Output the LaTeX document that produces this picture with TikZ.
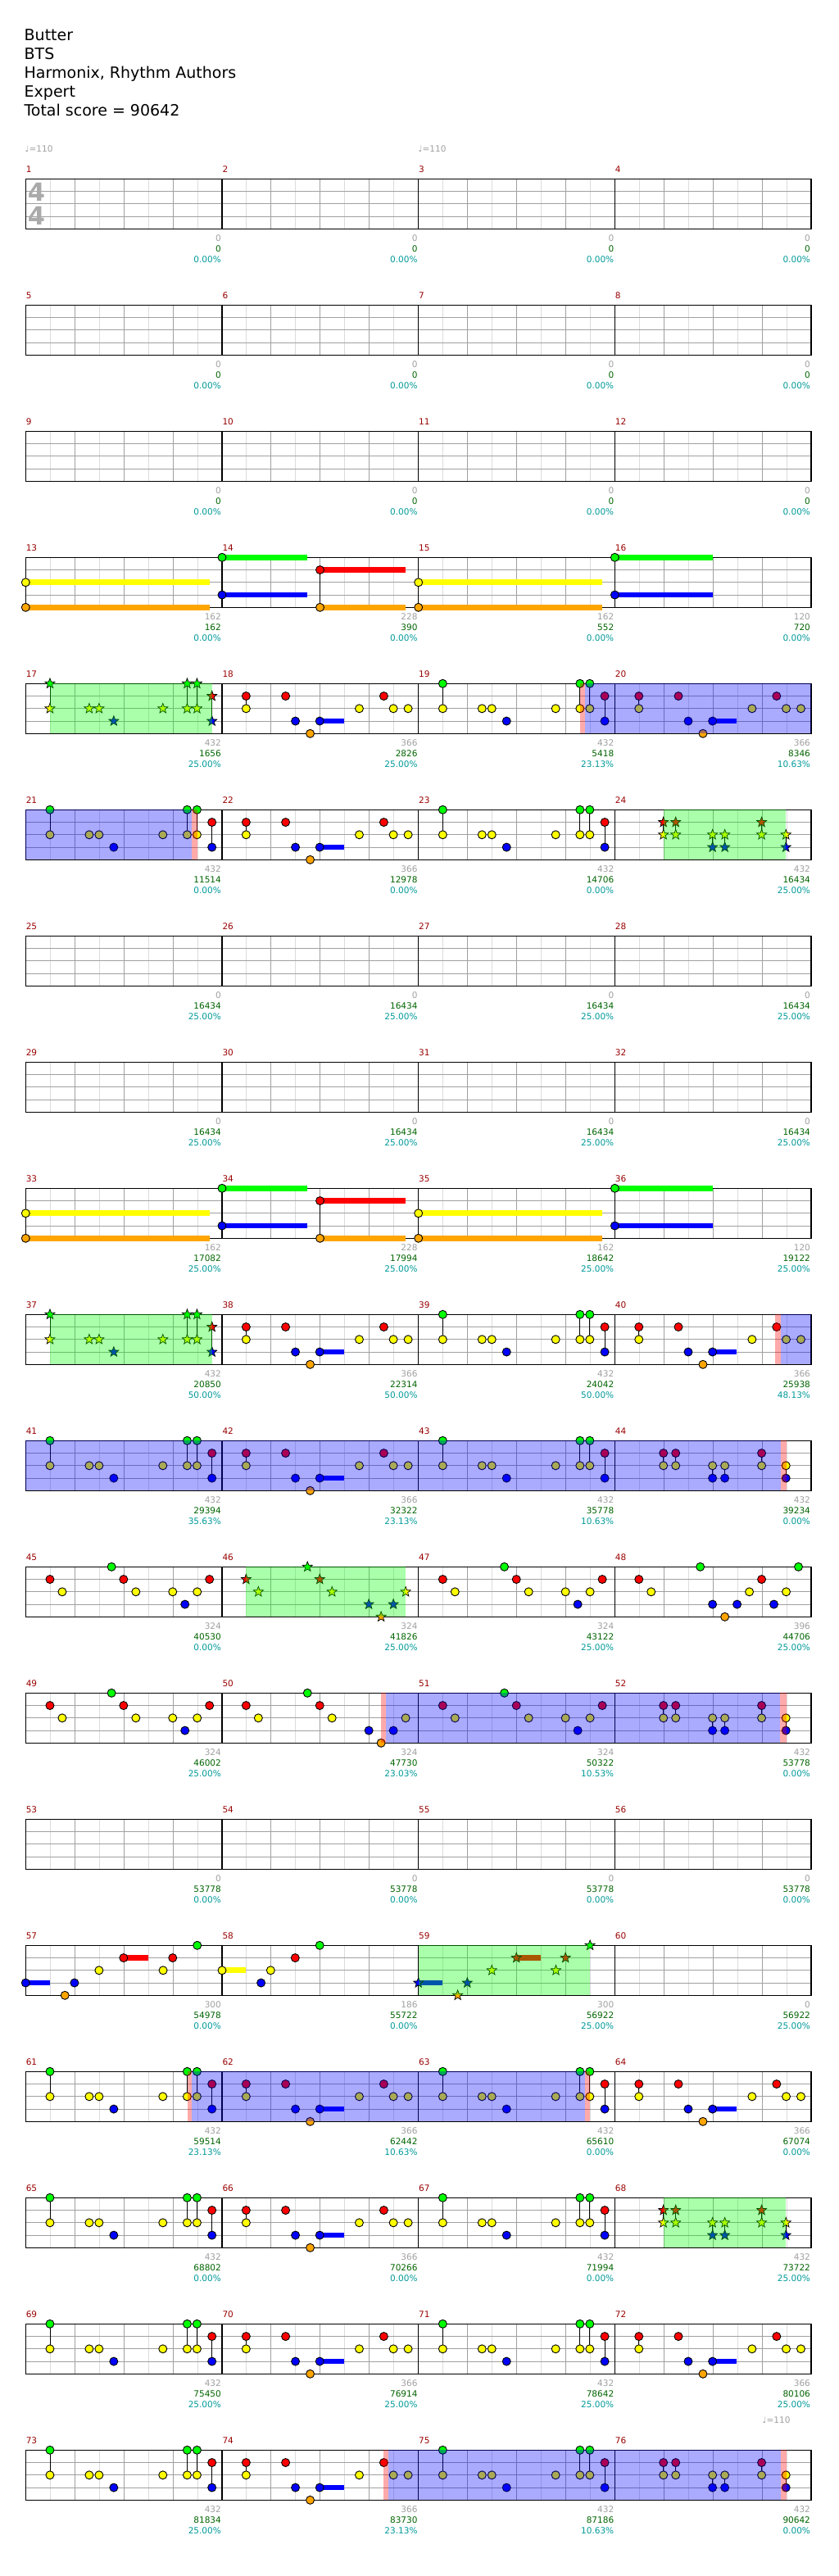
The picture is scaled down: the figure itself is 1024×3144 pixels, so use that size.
\documentclass[tikz,border=0pt]{standalone}
\usepackage{fontspec}
\setmainfont{DejaVu Sans}
\definecolor{cG}{RGB}{0,255,0}
\definecolor{cR}{RGB}{255,0,0}
\definecolor{cY}{RGB}{255,255,0}
\definecolor{cB}{RGB}{0,0,255}
\definecolor{cO}{RGB}{255,165,0}
\definecolor{mnum}{RGB}{153,0,0}
\definecolor{sgray}{RGB}{160,160,160}
\definecolor{sgreen}{RGB}{0,100,0}
\definecolor{scyan}{RGB}{0,153,153}
\definecolor{gridd}{RGB}{160,160,160}
\definecolor{gridl}{RGB}{220,220,220}
\definecolor{tsig}{RGB}{170,170,170}
\def\laneG{0}\def\laneR{1}\def\laneY{2}\def\laneB{3}\def\laneO{4}
\newcommand\setm[1]{%
  \pgfmathtruncatemacro\mrow{(#1-1)/4}%
  \pgfmathtruncatemacro\mcol{#1-1-4*\mrow}%
  \pgfmathsetmacro\mx{31.3+239.7*\mcol}%
  \pgfmathsetmacro\my{218.3+154*\mrow}}
\newcommand\nte[2]{%
  \pgfmathsetmacro\nx{\mx+29.96*#1}%
  \pgfmathsetmacro\ny{\my+15.25*\csname lane#2\endcsname}%
  \filldraw[fill=c#2,draw=black,line width=0.9pt] (\nx,\ny) circle[radius=5pt];}
\newcommand\sta[2]{%
  \pgfmathsetmacro\nx{\mx+29.96*#1}%
  \pgfmathsetmacro\ny{\my+15.25*\csname lane#2\endcsname}%
  \filldraw[fill=c#2,draw=black,line width=0.7pt,shift={(\nx,\ny)}]
    (90:6.4pt) -- (126:2.7pt) -- (162:6.4pt) -- (198:2.7pt) -- (234:6.4pt) -- (270:2.7pt)
    -- (306:6.4pt) -- (342:2.7pt) -- (18:6.4pt) -- (54:2.7pt) -- cycle;}
\newcommand\sus[3]{%
  \pgfmathsetmacro\xa{\mx+29.96*#1}%
  \pgfmathsetmacro\xb{\mx+29.96*#2}%
  \pgfmathsetmacro\ny{\my+15.25*\csname lane#3\endcsname}%
  \fill[c#3] (\xa,\ny-3.4) rectangle (\xb,\ny+3.4);}
\newcommand\chd[3]{%
  \pgfmathsetmacro\nx{\mx+29.96*#1}%
  \pgfmathsetmacro\ya{\my+15.25*\csname lane#2\endcsname}%
  \pgfmathsetmacro\yb{\my+15.25*\csname lane#3\endcsname}%
  \draw[black,line width=0.9pt] (\nx,\ya) -- (\nx,\yb);}
\newcommand\ovl[5]{%
  \setm{#2}\pgfmathsetmacro\xa{\mx+29.96*#3}%
  \setm{#4}\pgfmathsetmacro\xb{\mx+29.96*#5}%
  \fill[#1,fill opacity=0.333] (\xa,\my) rectangle (\xb,\my+61);}
\newcommand\scr[4]{%
  \setm{#1}\pgfmathsetmacro\xe{\mx+239.7-1}%
  \node[scl,text=sgray] (sa#1) at (\xe,\my+76.5) {#2};
  \node[scl,text=sgreen] (sb#1) at (\xe,\my+89.5) {#3};
  \node[scl,text=scyan] (sc#1) at (\xe,\my+102.5) {#4};}
% patterns
\newcommand\patA[1]{%
  \sus{3.98}{4.97}{B}\chd{0.98}{R}{Y}%
  #1{0.98}{R}#1{2.59}{R}#1{6.59}{R}%
  #1{0.98}{Y}#1{5.59}{Y}#1{6.98}{Y}#1{7.58}{Y}%
  #1{2.99}{B}#1{3.98}{B}#1{3.59}{O}}
\newcommand\patC[1]{%
  \chd{0.99}{G}{Y}\chd{6.58}{G}{Y}\chd{6.98}{G}{Y}\chd{7.59}{R}{B}%
  #1{0.99}{G}#1{6.58}{G}#1{6.98}{G}#1{7.59}{R}%
  #1{0.99}{Y}#1{2.59}{Y}#1{2.99}{Y}#1{5.59}{Y}#1{6.58}{Y}#1{6.98}{Y}%
  #1{3.59}{B}#1{7.59}{B}}
\newcommand\patD[1]{%
  \chd{1.98}{R}{Y}\chd{2.48}{R}{Y}\chd{3.98}{Y}{B}\chd{4.48}{Y}{B}\chd{5.98}{R}{Y}\chd{6.97}{Y}{B}%
  #1{1.98}{R}#1{2.48}{R}#1{5.98}{R}%
  #1{1.98}{Y}#1{2.48}{Y}#1{3.98}{Y}#1{4.48}{Y}#1{5.98}{Y}#1{6.97}{Y}%
  #1{3.98}{B}#1{4.48}{B}#1{6.97}{B}}
\newcommand\patE[1]{#1{3.5}{G}#1{0.99}{R}#1{3.99}{R}#1{7.49}{R}#1{1.49}{Y}#1{4.49}{Y}#1{5.99}{Y}#1{6.99}{Y}#1{6.49}{B}}
\newcommand\patF[1]{#1{3.48}{G}#1{0.98}{R}#1{3.98}{R}#1{1.48}{Y}#1{4.48}{Y}#1{7.48}{Y}#1{5.98}{B}#1{6.98}{B}#1{6.48}{O}}
\newcommand\patH[1]{#1{3.48}{G}#1{7.48}{G}#1{0.98}{R}#1{5.98}{R}#1{1.48}{Y}#1{5.48}{Y}#1{6.98}{Y}#1{3.98}{B}#1{4.98}{B}#1{6.48}{B}#1{4.48}{O}}
\newcommand\patG[1]{\sus{0}{0.98}{B}\sus{3.99}{4.98}{R}#1{0}{B}#1{1.99}{B}#1{1.6}{O}#1{2.99}{Y}#1{5.6}{Y}#1{3.99}{R}#1{5.99}{R}#1{6.99}{G}}
\newcommand\patK{\sus{0}{0.98}{Y}\nte{0}{Y}\nte{1.98}{Y}\nte{1.59}{B}\nte{2.98}{R}\nte{3.98}{G}}
\newcommand\patLa{\sus{0}{7.49}{Y}\sus{0}{7.49}{O}\chd{0}{Y}{O}\nte{0}{Y}\nte{0}{O}}
\newcommand\patLb{\sus{0}{3.48}{G}\sus{0}{3.48}{B}\sus{3.99}{7.48}{R}\sus{3.99}{7.48}{O}\chd{0}{G}{B}\chd{3.99}{R}{O}\nte{0}{G}\nte{0}{B}\nte{3.99}{R}\nte{3.99}{O}}
\newcommand\patLc{\sus{0}{3.98}{G}\sus{0}{3.98}{B}\chd{0}{G}{B}\nte{0}{G}\nte{0}{B}}
\tikzset{
  mlab/.style={anchor=base west,inner sep=0pt,text=mnum,font=\fontsize{10.5}{12}\selectfont},
  scl/.style={anchor=base east,inner sep=0pt,font=\fontsize{10.5}{12}\selectfont},
  hdr/.style={anchor=base west,inner sep=0pt,font=\fontsize{19}{23}\selectfont},
  tmp/.style={anchor=west,inner sep=0pt,text=sgray,font=\fontsize{10.5}{12}\selectfont},
  tsg/.style={inner sep=0pt,text=tsig,font=\fontsize{30.5}{31}\selectfont\bfseries}
}
\begin{document}
\begin{tikzpicture}[x=1pt,y=-1pt]
\fill[white] (0,0) rectangle (1024,3144);
\useasboundingbox (0,0) rectangle (1024,3144);
% header
\node[hdr] (h1) at (29.5,49.3) {Butter};
\node[hdr] (h2) at (29.5,72.3) {BTS};
\node[hdr] (h3) at (29.5,95.7) {Harmonix, Rhythm Authors};
\node[hdr] (h4) at (29.5,118.7) {Expert};
\node[hdr] (h5) at (29.3,141.7) {Total score = 90642};
% tempo
\node[tmp] (t1) at (30.5,181.5) {♩=110};
\node[tmp] (t2) at (510.5,181.5) {♩=110};
\node[tmp] (t3) at (930.5,2953.3) {♩=110};
% staves
\foreach \r in {0,...,18}{
  \pgfmathsetmacro\T{218.3+154*\r}
  \foreach \n in {1,3,...,31}{\draw[gridl,line width=1pt] ({31.3+29.96*\n},\T) -- ({31.3+29.96*\n},\T+61);}
  \foreach \n in {2,4,6,10,12,14,18,20,22,26,28,30}{\draw[gridd,line width=1pt] ({31.3+29.96*\n},\T) -- ({31.3+29.96*\n},\T+61);}
  \foreach \l in {1,2,3}{\draw[gridd,line width=1pt] (31.3,\T+15.25*\l) -- (990,\T+15.25*\l);}
  \foreach \n in {8,16,24}{\draw[black,line width=1.2pt] ({31.3+29.96*\n},\T) -- ({31.3+29.96*\n},\T+61);}
  \draw[black,line width=1.3pt] (31.3,\T) rectangle (990,\T+61);
}
% time signature
\node[tsg] (ts1) at (44.5,234) {4};
\node[tsg] (ts2) at (44.5,263.5) {4};
% measure numbers
\foreach \m in {1,...,76}{\setm{\m}\node[mlab] (mn\m) at (\mx+0.3,\my-7.6) {\m};}
% notes
\setm{13}\patLa \setm{14}\patLb \setm{15}\patLa \setm{16}\patLc
\setm{17}\patC\sta \setm{18}\patA\nte \setm{19}\patC\nte \setm{20}\patA\nte
\setm{21}\patC\nte \setm{22}\patA\nte \setm{23}\patC\nte \setm{24}\patD\sta
\setm{33}\patLa \setm{34}\patLb \setm{35}\patLa \setm{36}\patLc
\setm{37}\patC\sta \setm{38}\patA\nte \setm{39}\patC\nte \setm{40}\patA\nte
\setm{41}\patC\nte \setm{42}\patA\nte \setm{43}\patC\nte \setm{44}\patD\nte
\setm{45}\patE\nte \setm{46}\patF\sta \setm{47}\patE\nte \setm{48}\patH\nte
\setm{49}\patE\nte \setm{50}\patF\nte \setm{51}\patE\nte \setm{52}\patD\nte
\setm{57}\patG\nte \setm{58}\patK \setm{59}\patG\sta
\setm{61}\patC\nte \setm{62}\patA\nte \setm{63}\patC\nte \setm{64}\patA\nte
\setm{65}\patC\nte \setm{66}\patA\nte \setm{67}\patC\nte \setm{68}\patD\sta
\setm{69}\patC\nte \setm{70}\patA\nte \setm{71}\patC\nte \setm{72}\patA\nte
\setm{73}\patC\nte \setm{74}\patA\nte \setm{75}\patC\nte \setm{76}\patD\nte
% overlays
\ovl{cG}{17}{0.98}{17}{7.59}
\ovl{cR}{19}{6.57}{19}{6.77}\ovl{cB}{19}{6.77}{20}{8}
\ovl{cB}{21}{0}{21}{6.76}\ovl{cR}{21}{6.76}{21}{7.0}
\ovl{cG}{24}{1.98}{24}{6.97}
\ovl{cG}{37}{0.98}{37}{7.59}
\ovl{cR}{40}{6.54}{40}{6.76}\ovl{cB}{40}{6.76}{40}{8}
\ovl{cB}{41}{0}{44}{6.76}\ovl{cR}{44}{6.76}{44}{6.98}
\ovl{cG}{46}{0.98}{46}{7.48}
\ovl{cR}{50}{6.48}{50}{6.68}\ovl{cB}{50}{6.68}{52}{6.72}\ovl{cR}{52}{6.72}{52}{6.98}
\ovl{cG}{59}{0}{59}{6.98}
\ovl{cR}{61}{6.59}{61}{6.78}\ovl{cB}{61}{6.78}{63}{6.78}\ovl{cR}{63}{6.78}{63}{7.0}
\ovl{cG}{68}{1.98}{68}{6.97}
\ovl{cR}{74}{6.57}{74}{6.76}\ovl{cB}{74}{6.76}{76}{6.76}\ovl{cR}{76}{6.76}{76}{6.98}
% scores
\foreach \m in {1,...,12}{\scr{\m}{0}{0}{0.00\%}}
\scr{13}{162}{162}{0.00\%}\scr{14}{228}{390}{0.00\%}\scr{15}{162}{552}{0.00\%}\scr{16}{120}{720}{0.00\%}
\scr{17}{432}{1656}{25.00\%}\scr{18}{366}{2826}{25.00\%}\scr{19}{432}{5418}{23.13\%}\scr{20}{366}{8346}{10.63\%}
\scr{21}{432}{11514}{0.00\%}\scr{22}{366}{12978}{0.00\%}\scr{23}{432}{14706}{0.00\%}\scr{24}{432}{16434}{25.00\%}
\foreach \m in {25,...,32}{\scr{\m}{0}{16434}{25.00\%}}
\scr{33}{162}{17082}{25.00\%}\scr{34}{228}{17994}{25.00\%}\scr{35}{162}{18642}{25.00\%}\scr{36}{120}{19122}{25.00\%}
\scr{37}{432}{20850}{50.00\%}\scr{38}{366}{22314}{50.00\%}\scr{39}{432}{24042}{50.00\%}\scr{40}{366}{25938}{48.13\%}
\scr{41}{432}{29394}{35.63\%}\scr{42}{366}{32322}{23.13\%}\scr{43}{432}{35778}{10.63\%}\scr{44}{432}{39234}{0.00\%}
\scr{45}{324}{40530}{0.00\%}\scr{46}{324}{41826}{25.00\%}\scr{47}{324}{43122}{25.00\%}\scr{48}{396}{44706}{25.00\%}
\scr{49}{324}{46002}{25.00\%}\scr{50}{324}{47730}{23.03\%}\scr{51}{324}{50322}{10.53\%}\scr{52}{432}{53778}{0.00\%}
\foreach \m in {53,...,56}{\scr{\m}{0}{53778}{0.00\%}}
\scr{57}{300}{54978}{0.00\%}\scr{58}{186}{55722}{0.00\%}\scr{59}{300}{56922}{25.00\%}\scr{60}{0}{56922}{25.00\%}
\scr{61}{432}{59514}{23.13\%}\scr{62}{366}{62442}{10.63\%}\scr{63}{432}{65610}{0.00\%}\scr{64}{366}{67074}{0.00\%}
\scr{65}{432}{68802}{0.00\%}\scr{66}{366}{70266}{0.00\%}\scr{67}{432}{71994}{0.00\%}\scr{68}{432}{73722}{25.00\%}
\scr{69}{432}{75450}{25.00\%}\scr{70}{366}{76914}{25.00\%}\scr{71}{432}{78642}{25.00\%}\scr{72}{366}{80106}{25.00\%}
\scr{73}{432}{81834}{25.00\%}\scr{74}{366}{83730}{23.13\%}\scr{75}{432}{87186}{10.63\%}\scr{76}{432}{90642}{0.00\%}
\end{tikzpicture}
\end{document}
